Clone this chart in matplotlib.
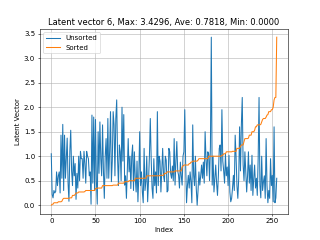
import numpy as np
import matplotlib
matplotlib.use("Agg")
import matplotlib.pyplot as plt

title = "Latent vector 6, Max: 3.4296, Ave: 0.7818, Min: 0.0000"
xlabel = "Index"
ylabel = "Latent Vector"
series_names = ["Unsorted", "Sorted"]

unsorted_values = [
    1.05, 0.22, 0.15, 0.30, 0.25, 0.28, 0.68, 0.40, 0.60, 0.68, 0.25, 1.43, 0.55, 1.65, 0.30, 1.43,
    0.55, 0.95, 1.37, 0.45, 0.08, 1.10, 1.53, 0.70, 0.40, 1.00, 0.60, 0.85, 0.12, 0.65, 0.35, 1.00,
    0.50, 1.10, 0.95, 0.95, 0.55, 1.10, 0.85, 0.45, 1.10, 1.00, 0.95, 0.60, 0.68, 0.02, 1.84, 0.45,
    1.80, 0.30, 1.75, 0.50, 0.02, 1.50, 0.65, 1.70, 0.95, 0.60, 1.64, 0.70, 0.14, 1.00, 1.36, 0.55,
    1.77, 0.55, 1.10, 1.91, 0.48, 0.90, 1.91, 1.64, 0.60, 1.77, 2.15, 0.95, 0.40, 1.23, 1.09, 0.50,
    2.00, 0.90, 1.85, 0.41, 0.60, 0.14, 0.70, 1.36, 0.68, 1.00, 0.34, 1.00, 1.23, 0.30, 1.09, 0.55,
    0.27, 0.90, 0.07, 0.60, 1.50, 0.40, 0.68, 0.27, 0.05, 1.16, 0.30, 0.48, 1.00, 0.07, 0.50, 1.00,
    1.77, 0.95, 0.35, 0.14, 0.95, 0.40, 0.68, 0.25, 1.91, 0.40, 1.00, 0.90, 0.27, 0.70, 1.16, 0.60,
    0.48, 1.00, 0.92, 0.27, 0.30, 1.16, 1.09, 0.65, 0.55, 0.80, 0.50, 1.36, 0.41, 0.90, 1.30, 0.70,
    0.61, 0.35, 0.88, 0.60, 0.41, 1.00, 1.09, 1.95, 0.82, 0.05, 0.40, 0.61, 0.35, 0.68, 0.48, 0.05,
    1.64, 0.61, 0.40, 1.00, 0.34, 0.00, 0.30, 0.68, 0.41, 0.60, 0.82, 0.55, 0.88, 0.45, 1.50, 0.95,
    0.60, 1.09, 1.05, 0.50, 1.20, 3.43, 0.41, 1.00, 0.27, 0.55, 0.82, 0.45, 0.20, 0.60, 1.16, 1.23,
    0.70, 1.95, 0.90, 0.70, 0.45, 1.05, 0.60, 0.78, 0.40, 1.02, 0.27, 0.07, 0.14, 0.35, 0.61, 0.30,
    1.43, 1.00, 0.40, 0.14, 0.55, 1.60, 0.70, 1.64, 2.20, 0.82, 0.50, 1.09, 0.68, 0.27, 0.60, 1.09,
    0.45, 0.82, 0.30, 1.02, 0.20, 0.55, 0.82, 0.35, 0.55, 0.20, 0.95, 2.20, 0.41, 0.15, 1.00, 0.30,
    0.48, 0.60, 0.14, 1.36, 0.40, 0.05, 0.30, 0.14, 0.95, 0.40, 0.61, 0.07, 1.60, 0.05, 0.15, 0.55,
]

unsorted_arr = np.array(unsorted_values)
sorted_arr = np.sort(unsorted_arr)
index = np.arange(len(unsorted_arr))

fig, ax = plt.subplots(figsize=(6.4, 4.8), dpi=50)
ax.plot(index, unsorted_arr, label=series_names[0], color="#1f77b4")
ax.plot(index, sorted_arr, label=series_names[1], color="#ff7f0e")
ax.set_title(title)
ax.set_xlabel(xlabel)
ax.set_ylabel(ylabel)
ax.grid(True)
ax.legend(loc="upper left")
fig.savefig("out.png", dpi=50)
